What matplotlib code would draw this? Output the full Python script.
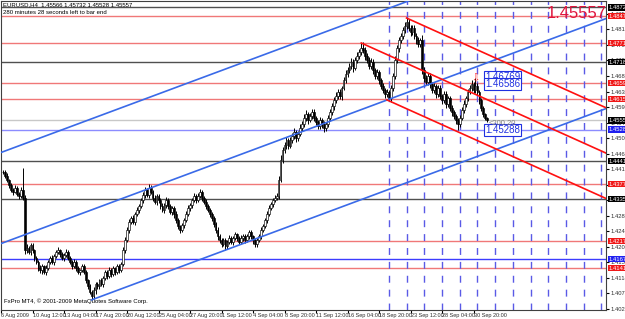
import matplotlib
matplotlib.use("Agg")
import matplotlib.pyplot as plt
from matplotlib import font_manager
from matplotlib.transforms import blended_transform_factory

# ---- data (prices in pips above 1.4000) ----
closes = [411, 399, 388, 374, 360, 355, 366, 349, 343, 360, 338, 192, 198, 187, 206, 192,
          170, 159, 142, 136, 147, 131, 142, 159, 170, 159, 175, 187, 192, 181, 170, 178,
          187, 170, 159, 147, 159, 142, 131, 136, 147, 131, 108, 91, 75, 63, 80, 97,
          91, 108, 97, 114, 131, 120, 136, 125, 142, 131, 147, 136, 153, 192, 220, 248,
          271, 282, 271, 293, 304, 315, 332, 346, 360, 346, 366, 355, 338, 327, 343, 332,
          315, 304, 318, 332, 315, 299, 310, 293, 276, 259, 248, 262, 276, 293, 310, 318,
          332, 343, 332, 343, 355, 338, 327, 315, 304, 293, 282, 265, 248, 231, 220, 209,
          220, 203, 215, 226, 215, 226, 237, 226, 215, 226, 231, 220, 231, 243, 231, 220,
          209, 220, 231, 248, 259, 276, 293, 310, 321, 332, 338, 343, 388, 444, 472, 486,
          500, 483, 500, 511, 522, 506, 517, 534, 545, 562, 573, 556, 567, 578, 562, 550,
          539, 556, 545, 534, 545, 562, 578, 595, 612, 623, 634, 623, 645, 668, 685, 696,
          707, 718, 701, 724, 735, 746, 757, 752, 735, 724, 707, 718, 696, 679, 690, 668,
          651, 640, 629, 634, 617, 645, 679, 724, 757, 780, 791, 808, 819, 830, 814, 802,
          814, 791, 780, 769, 780, 696, 674, 662, 679, 657, 640, 651, 629, 645, 623, 612,
          629, 601, 617, 590, 578, 567, 556, 545, 562, 584, 601, 617, 634, 645, 657, 640,
          651, 634, 612, 590, 573, 562, 556]
# wick lengths above / below the body, pips
hi_ext = [6, 5, 8, 4, 6, 5, 7, 5, 6, 9, 62, 8, 10, 6, 5, 7,
          4, 6, 5, 8, 6, 4, 7, 6, 5, 8, 6, 5, 9, 4, 6, 5,
          7, 5, 6, 4, 8, 5, 6, 4, 7, 5, 6, 4, 5, 6, 8, 5,
          6, 4, 7, 5, 6, 4, 8, 5, 6, 4, 7, 6, 5, 9, 8, 10,
          7, 6, 8, 5, 9, 6, 7, 10, 8, 6, 12, 7, 5, 8, 6, 7,
          5, 8, 6, 9, 5, 7, 6, 5, 8, 6, 4, 7, 6, 8, 9, 7,
          6, 10, 7, 8, 9, 6, 5, 7, 6, 5, 7, 6, 5, 8, 6, 5,
          7, 5, 6, 8, 5, 6, 7, 4, 6, 8, 5, 6, 7, 5, 6, 4,
          5, 6, 7, 8, 6, 7, 9, 8, 7, 6, 8, 10, 12, 15, 10, 8,
          9, 7, 10, 8, 12, 7, 9, 11, 8, 10, 12, 7, 9, 10, 8, 6,
          7, 9, 6, 8, 7, 9, 10, 8, 9, 12, 8, 10, 7, 9, 11, 8,
          9, 12, 8, 10, 11, 9, 14, 18, 9, 8, 10, 12, 8, 7, 9, 6,
          7, 8, 6, 9, 5, 8, 10, 12, 9, 8, 10, 9, 11, 12, 10, 8,
          9, 7, 8, 10, 6, 14, 8, 7, 9, 8, 7, 10, 6, 9, 8, 7,
          9, 8, 7, 6, 8, 7, 6, 5, 9, 8, 10, 7, 9, 8, 10, 6,
          23, 8, 7, 6, 5, 4, 3]
lo_ext = [5, 6, 4, 7, 5, 8, 4, 6, 7, 5, 6, 10, 8, 6, 9, 7,
          8, 6, 9, 7, 10, 6, 8, 5, 7, 6, 8, 5, 6, 7, 5, 8,
          6, 7, 5, 8, 6, 9, 7, 8, 6, 7, 8, 9, 7, 8, 9, 11,
          7, 8, 6, 9, 5, 8, 6, 7, 5, 8, 6, 7, 5, 6, 7, 5,
          8, 6, 7, 9, 5, 8, 6, 7, 9, 6, 8, 7, 9, 6, 8, 7,
          9, 6, 8, 7, 9, 6, 8, 10, 7, 9, 8, 6, 7, 5, 6, 8,
          7, 5, 8, 6, 5, 9, 7, 8, 6, 9, 8, 7, 9, 10, 8, 9,
          6, 10, 8, 7, 6, 8, 7, 9, 6, 5, 8, 7, 6, 9, 8, 10,
          8, 7, 6, 9, 6, 5, 7, 6, 5, 8, 6, 7, 9, 6, 8, 7,
          10, 8, 6, 9, 7, 10, 8, 6, 9, 7, 8, 10, 6, 7, 9, 8,
          9, 7, 10, 12, 8, 7, 9, 8, 10, 7, 9, 8, 10, 6, 8, 9,
          7, 8, 10, 6, 9, 8, 7, 9, 10, 8, 9, 7, 10, 8, 9, 10,
          8, 9, 10, 7, 5, 9, 8, 7, 9, 10, 8, 9, 7, 8, 9, 10,
          8, 9, 10, 9, 8, 10, 12, 9, 8, 10, 9, 8, 10, 9, 8, 10,
          9, 10, 8, 9, 10, 9, 11, 17, 8, 7, 9, 8, 7, 6, 8, 7,
          9, 8, 10, 9, 8, 7, 6]

tick_prices = [1.40270, 1.40710, 1.41140, 1.41580, 1.42010, 1.42450, 1.42880, 1.43320,
               1.43750, 1.44190, 1.44620, 1.45060, 1.45490, 1.45930, 1.46360, 1.46800,
               1.47230, 1.47670, 1.48100, 1.48540]
time_labels = ["6 Aug 2009", "10 Aug 12:00", "13 Aug 04:00", "17 Aug 20:00", "20 Aug 12:00",
               "25 Aug 04:00", "27 Aug 20:00", "1 Sep 12:00", "4 Sep 04:00", "8 Sep 20:00",
               "11 Sep 12:00", "16 Sep 04:00", "18 Sep 20:00", "23 Sep 12:00", "28 Sep 04:00",
               "30 Sep 20:00"]
time_bars = [-1, 15, 31, 47, 63, 79, 95, 111, 127, 143, 159, 175, 191, 207, 223, 239]
cycle_bars = [196, 205, 214, 223, 232, 241, 250, 259, 268, 277, 286, 295, 304]

red_levels = [1.48474, 1.47718, 1.46598, 1.46150, 1.43770, 1.42174, 1.41418]
dark_levels = [1.48720, 1.47186, 1.44414, 1.43350]
blue_levels = [1.45288, 1.41670]
last_price = 1.45557

# channels: (start bar, price at start), slope per bar
blue_base = (45, 1.40525)
blue_slope = 0.000205
blue_offsets = [0.0, 0.0252, 0.0507]
red_base = (182, 1.47718)
red_slope = -0.000248
red_offsets = [0.0127, 0.0, -0.0127]
red_starts = [205, 182, 195]

names = {f.name for f in font_manager.fontManager.ttflist}
small_font = "Liberation Sans Narrow" if "Liberation Sans Narrow" in names else "Liberation Sans"

# ---- figure ----
fig = plt.figure(figsize=(6.25, 3.19), dpi=100)
ax = fig.add_axes([1 / 625, 9 / 319, 605 / 625, 309 / 319])
ax.set_xlim(-0.5, 306.3)
ax.set_ylim(1.40242, 1.48894)

n = len(closes)
xs = list(range(n))
c = [1.4 + v / 10000 for v in closes]
o = [c[0]] + c[:-1]
top = [max(a, b) for a, b in zip(o, c)]
bot = [min(a, b) for a, b in zip(o, c)]
hi = [t + e / 10000 for t, e in zip(top, hi_ext)]
lo = [b - e / 10000 for b, e in zip(bot, lo_ext)]
ax.vlines(xs, lo, hi, color="black", lw=0.7, zorder=3)
ax.bar(xs, [max(t - b, 0.00006) for t, b in zip(top, bot)], bottom=bot, width=0.9,
       color=["white" if cc >= oo else "black" for cc, oo in zip(c, o)],
       edgecolor="black", lw=0.45, zorder=4)

for p in red_levels:
    ax.axhline(p, color="#f07878", lw=1, zorder=1)
for p in dark_levels:
    ax.axhline(p, color="#505050", lw=1, zorder=1)
ax.axhline(blue_levels[0], color="#8c8cff", lw=1, zorder=1)
ax.axhline(blue_levels[1], color="#3c3cff", lw=1, zorder=1)
ax.axhline(last_price, color="#c8c8c8", lw=1, zorder=1)

for b in cycle_bars:
    ax.axvline(b, color="#5a5ae6", lw=1, ls=(0, (5, 5)), zorder=1)

xend = 306.3
b0, p0 = blue_base
for k, off in enumerate(blue_offsets):
    x0 = b0 if k == 0 else -1
    ax.plot([x0, xend], [p0 + off + blue_slope * (x0 - b0), p0 + off + blue_slope * (xend - b0)],
            color="#3a6ae8", lw=1.2, zorder=5)
r0, q0 = red_base
for off, x0 in zip(red_offsets, red_starts):
    ax.plot([x0, xend], [q0 + off + red_slope * (x0 - r0), q0 + off + red_slope * (xend - r0)],
            color="#ff1010", lw=1.2, zorder=5)

# right price axis and time axis
ax.yaxis.tick_right()
ax.set_yticks(tick_prices)
ax.set_yticklabels(["%.5f" % p for p in tick_prices], fontsize=4.2, color="#303030",
                   family=small_font)
ax.tick_params(axis="y", length=2, pad=1)
ax.set_xticks(time_bars)
ax.set_xticklabels(time_labels, fontsize=4.0, ha="left", color="#303030", family=small_font)
ax.tick_params(axis="x", length=2, pad=0.5)
for s in ax.spines.values():
    s.set_color("#404040")
    s.set_linewidth(0.8)

tr = blended_transform_factory(ax.transAxes, ax.transData)
def axis_tag(p, fc):
    ax.text(1.004, p, "%.5f" % p, transform=tr, fontsize=4.2, color="white", va="center",
            ha="left", clip_on=False, zorder=10, family=small_font,
            bbox=dict(boxstyle="square,pad=0.15", fc=fc, ec="none"))
for p in red_levels:
    axis_tag(p, "#f01818")
for p in dark_levels:
    axis_tag(p, "black")
for p in blue_levels:
    axis_tag(p, "#2020f0")
axis_tag(last_price, "black")

# texts
ax.text(0.003, 0.995, "EURUSD,H4  1.45566 1.45732 1.45528 1.45557", transform=ax.transAxes,
        fontsize=4.3, va="top", ha="left", family=small_font)
ax.text(0.003, 0.972, "280 minutes 28 seconds left to bar end", transform=ax.transAxes,
        fontsize=4.3, va="top", ha="left", family=small_font)
ax.text(0.005, 0.02, "FxPro MT4, \u00a9 2001-2009 MetaQuotes Software Corp.",
        transform=ax.transAxes, fontsize=4.3, va="bottom", ha="left", family=small_font)
ax.text(1.002, 0.985, "%.5f" % last_price, transform=ax.transAxes, fontsize=12,
        color="#e0143c", va="top", ha="right", family="Liberation Sans", zorder=11)

ax.text(244.8, 1.46766, "1.46769", fontsize=7, color="#2030e0", va="center", ha="left",
        family="Liberation Sans", zorder=11,
        bbox=dict(boxstyle="square,pad=0.1", fc="white", ec="#2030e0", lw=0.8))
ax.text(244.8, 1.46575, "1.46586", fontsize=7, color="#2030e0", va="center", ha="left",
        family="Liberation Sans", zorder=11,
        bbox=dict(boxstyle="square,pad=0.1", fc="white", ec="#2030e0", lw=0.8))
ax.text(244.8, 1.45288, "1.45288", fontsize=7, color="#2030e0", va="center", ha="left",
        family="Liberation Sans", zorder=11,
        bbox=dict(boxstyle="square,pad=0.1", fc="white", ec="#2030e0", lw=0.8))
ax.text(246.5, 1.45470, "<200.20", fontsize=5.5, color="#808080", va="center", ha="left",
        zorder=11, family="Liberation Sans")
ax.text(239.9, 1.46738, "\u21e9", fontsize=7, color="#ff3030", va="center", ha="center",
        zorder=11)

fig.savefig("out.png", dpi=100)
